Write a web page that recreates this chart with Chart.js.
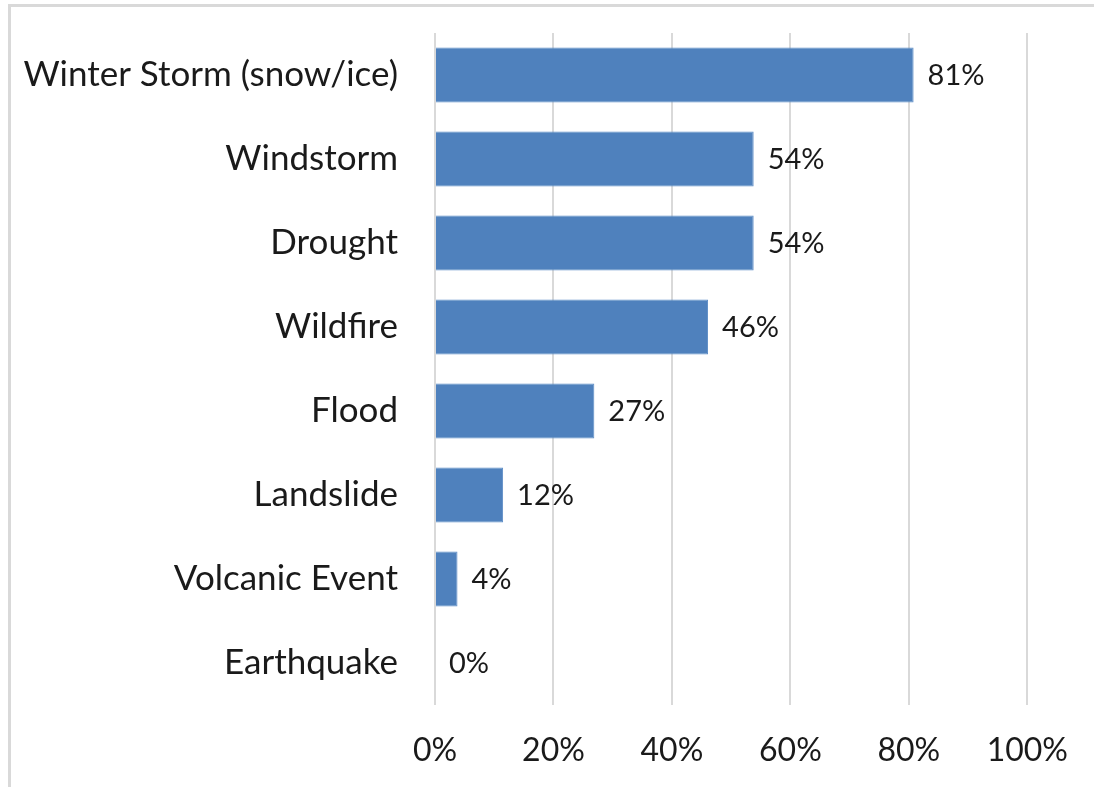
<!DOCTYPE html>
<html>
<head>
<meta charset="utf-8">
<script src="https://cdn.jsdelivr.net/npm/chart.js@4"></script>
<style>
  html, body { margin: 0; padding: 0; background: #fff; overflow: hidden; }
  #frame {
    position: absolute; left: 8px; top: 4px; width: 1100px; height: 800px;
    border: 3px solid #d9d9d9; box-sizing: border-box;
  }
  #wrap { position: absolute; left: 0; top: 0; width: 1094px; height: 787px; }
</style>
</head>
<body>
<div id="frame"></div>
<div id="wrap"><canvas id="hazardChart"></canvas></div>
<script>
const hazards = ['Winter Storm (snow/ice)', 'Windstorm', 'Drought', 'Wildfire', 'Flood', 'Landslide', 'Volcanic Event', 'Earthquake'];
const shares = [80.8, 53.8, 53.8, 46.1, 26.9, 11.5, 3.8, 0];
const xTicks = [0, 20, 40, 60, 80, 100];

const FONT = 'Lato';

// draws the "81%" style labels just past the end of each bar
const barLabels = {
  id: 'barLabels',
  afterDatasetsDraw(chart) {
    const ctx = chart.ctx;
    const meta = chart.getDatasetMeta(0);
    ctx.save();
    ctx.font = '29px ' + FONT;
    ctx.fillStyle = '#1a1a1a';
    ctx.textAlign = 'left';
    ctx.textBaseline = 'middle';
    meta.data.forEach((bar, i) => {
      ctx.fillText(Math.round(shares[i]) + '%', bar.x + 14, bar.y + 1);
    });
    ctx.restore();
  }
};

const ctx = document.getElementById('hazardChart').getContext('2d');
new Chart(ctx, {
  type: 'bar',
  data: {
    labels: hazards,
    datasets: [{
      data: shares,
      backgroundColor: '#4f81bd',
      borderColor: '#5b8bc6',
      borderWidth: 1,
      categoryPercentage: 1,
      barPercentage: 0.655
    }]
  },
  options: {
    indexAxis: 'y',
    responsive: true,
    maintainAspectRatio: false,
    animation: false,
    layout: { padding: { left: 0, right: 61, top: 33, bottom: 0 } },
    plugins: { legend: { display: false }, tooltip: { enabled: false } },
    scales: {
      x: {
        min: 0, max: 100,
        afterBuildTicks(axis) { axis.ticks = xTicks.map(v => ({ value: v })); },
        afterFit(axis) { axis.height = 82; },
        grid: { color: '#d9d9d9', lineWidth: 2, drawTicks: false },
        border: { display: false },
        ticks: {
          padding: 26,
          color: '#1a1a1a',
          font: { family: FONT, size: 32 },
          callback: v => v + '%'
        }
      },
      y: {
        grid: { display: false, drawTicks: false },
        border: { display: false },
        afterFit(axis) {
          axis.width = 435;
          axis.paddingTop = 0;
          axis.paddingBottom = 0;
        },
        ticks: {
          padding: 37,
          color: '#1a1a1a',
          font: { family: FONT, size: 35 }
        }
      }
    }
  },
  plugins: [barLabels]
});
</script>
</body>
</html>
